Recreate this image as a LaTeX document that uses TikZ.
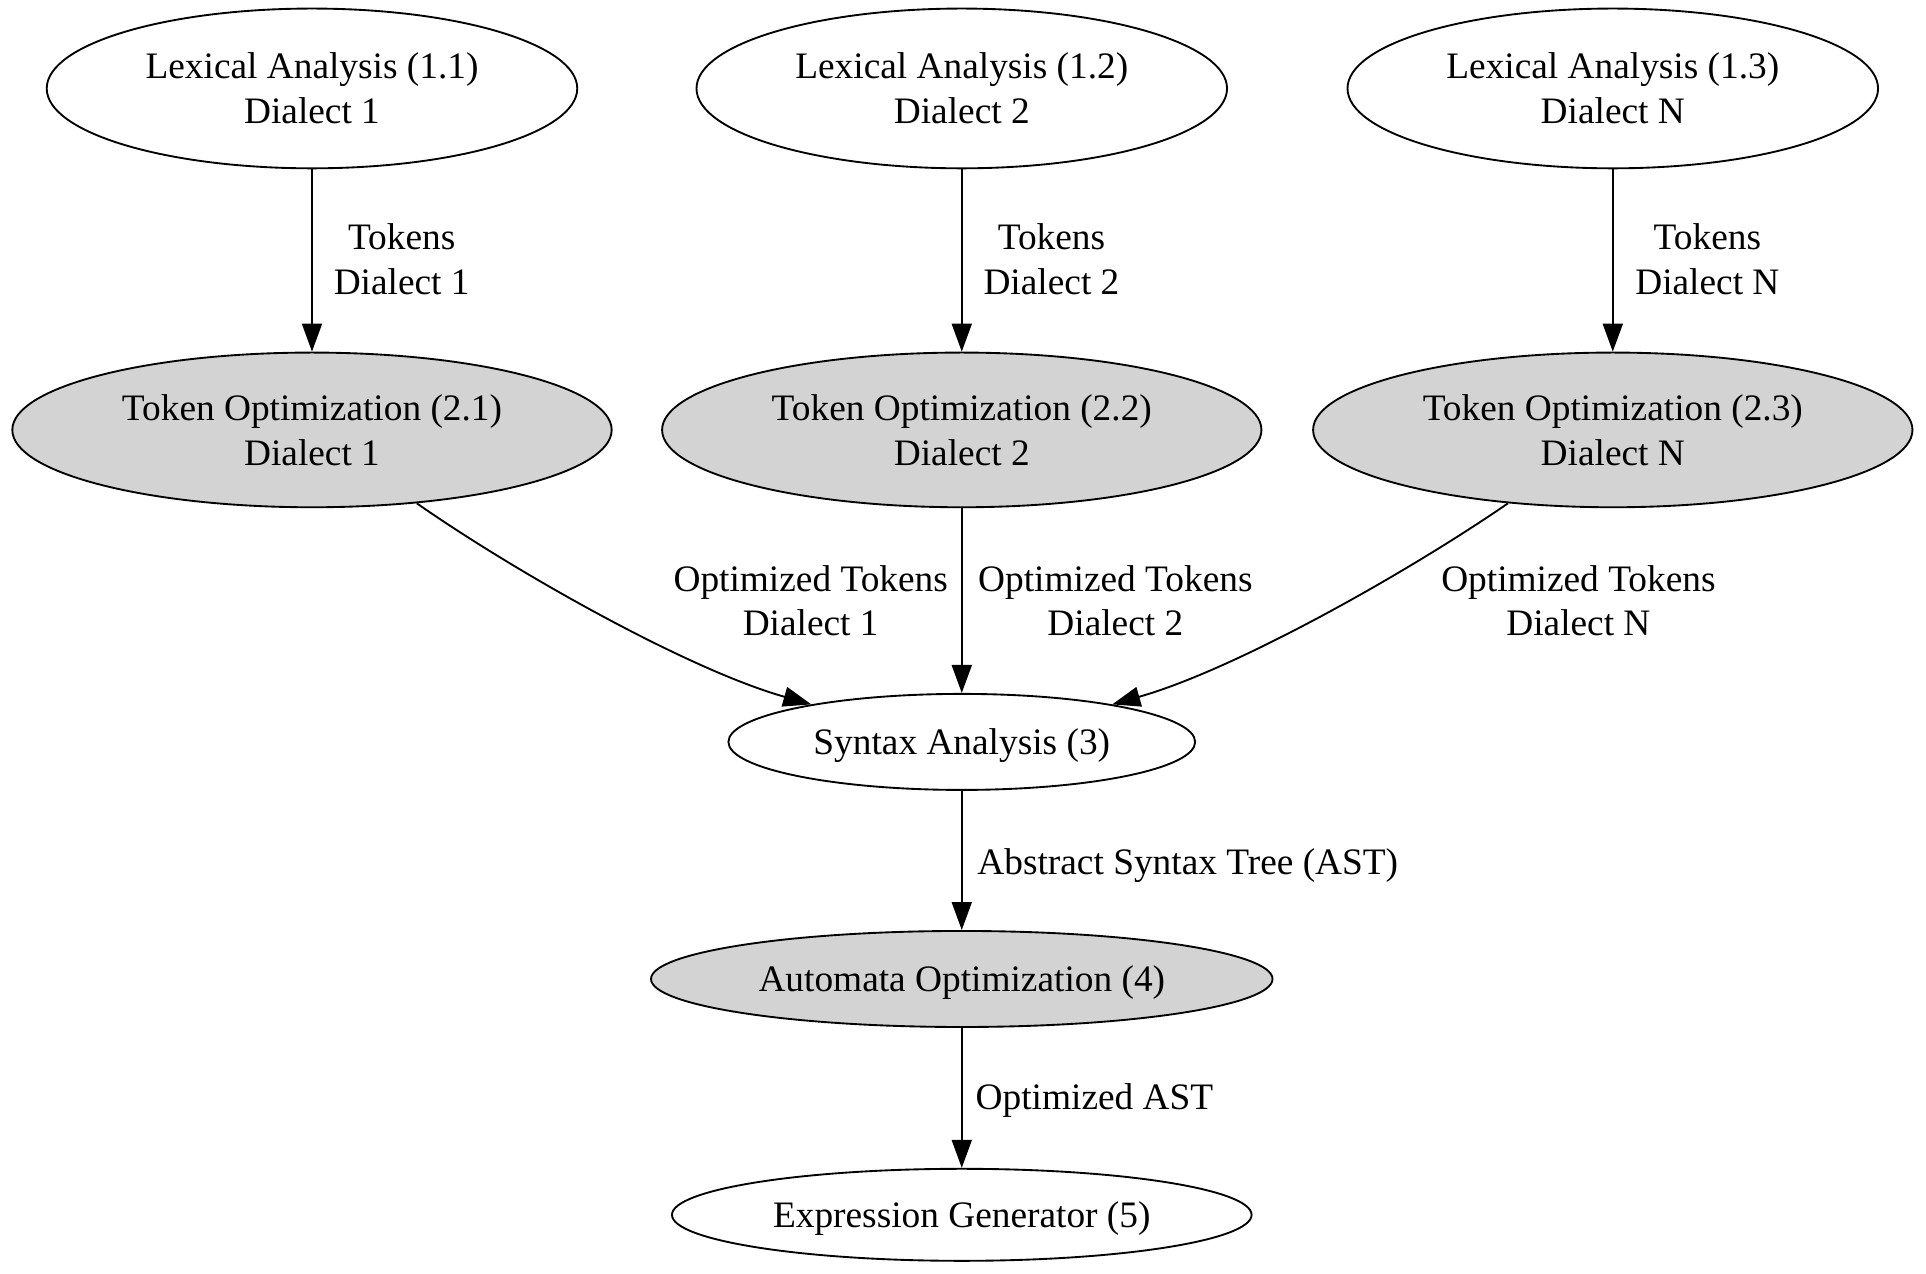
\documentclass[tikz,border=0pt]{standalone}
\usepackage{fontspec}
\setmainfont{Liberation Serif}
\usetikzlibrary{arrows.meta,shapes.geometric}
\definecolor{lgray}{HTML}{D3D3D3}
\begin{document}
\begin{tikzpicture}[x=0.4605pt,y=-0.4605pt,
  every node/.style={font=\fontsize{14}{16.8}\selectfont},
  proc/.style={ellipse,draw,line width=0.7pt,inner sep=0pt,align=center},
  twoline/.style={proc,minimum width=198.9pt,minimum height=59.9pt},
  opt/.style={proc,fill=lgray,minimum width=224.7pt,minimum height=58pt},
  oneline/.style={proc,text depth=0pt},
  lbl/.style={align=center,inner sep=0pt},
  edge/.style={draw,line width=0.7pt,-{Triangle[length=10.5pt,width=7.5pt]}}
]
\useasboundingbox (0,0) rectangle (1568,1037);

\node[twoline] (L1) at (254,72) {Lexical Analysis (1.1)\\Dialect 1};
\node[twoline] (L2) at (783,72) {Lexical Analysis (1.2)\\Dialect 2};
\node[twoline] (L3) at (1313,72) {Lexical Analysis (1.3)\\Dialect N};

\node[opt] (T1) at (254,350) {Token Optimization (2.1)\\Dialect 1};
\node[opt] (T2) at (783,350) {Token Optimization (2.2)\\Dialect 2};
\node[opt] (T3) at (1313,350) {Token Optimization (2.3)\\Dialect N};

\node[oneline,minimum width=175pt,minimum height=36pt] (S) at (783,604) {Syntax Analysis (3)};
\node[oneline,fill=lgray,minimum width=233pt,minimum height=36pt] (A) at (783,797) {Automata Optimization (4)};
\node[oneline,minimum width=217.3pt,minimum height=34.5pt] (E) at (783,989) {Expression Generator (5)};

\path[edge] (L1.south) -- (T1.north);
\path[edge] (L2.south) -- (T2.north);
\path[edge] (L3.south) -- (T3.north);

\path[edge] (T1.-35) .. controls (420,466) and (560,545) .. (S.166);
\path[edge] (T2.south) -- (S.north);
\path[edge] (T3.-145) .. controls (1146,466) and (1006,545) .. (S.14);

\path[edge] (S.south) -- (A.north);
\path[edge] (A.south) -- (E.north);

\node[lbl] (l1) at (327,211) {Tokens\\Dialect 1};
\node[lbl] (l2) at (856,211) {Tokens\\Dialect 2};
\node[lbl] (l3) at (1390,211) {Tokens\\Dialect N};

\node[lbl] (o1) at (660,489) {Optimized Tokens\\Dialect 1};
\node[lbl] (o2) at (908,489) {Optimized Tokens\\Dialect 2};
\node[lbl] (o3) at (1285,489) {Optimized Tokens\\Dialect N};

\node[lbl] (ast) at (967,705) {Abstract Syntax Tree (AST)};
\node[lbl] (oast) at (891,896) {Optimized AST};
\end{tikzpicture}
\end{document}
